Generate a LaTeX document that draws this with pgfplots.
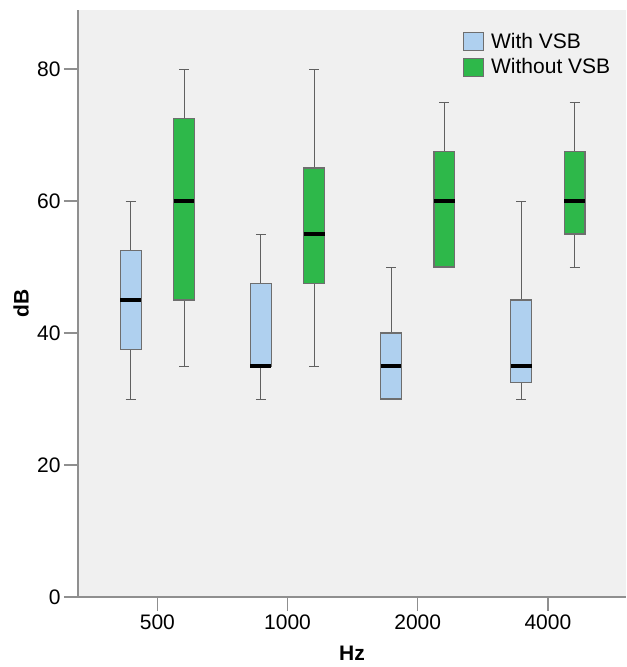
\documentclass[border=0pt]{standalone}
\usepackage{fontspec}
\setmainfont{Liberation Sans}
\usepackage{pgfplots}
\pgfplotsset{compat=1.18}
\definecolor{bggray}{HTML}{F0F0F0}
\definecolor{vsbblue}{HTML}{AFD0EF}
\definecolor{vsbgreen}{HTML}{2EB84A}
\definecolor{edgegray}{HTML}{6E6E6E}
\definecolor{axisgray}{HTML}{8F8F8F}
\definecolor{whiskgray}{HTML}{606060}
\pgfplotsset{
  sqlegend/.style={legend image code/.code={\draw[##1] (0pt,-9pt) rectangle (20pt,9pt); \path (25pt,0pt);}},
  boxst/.style={draw=edgegray, line width=1.1pt, mark=none},
  whiskst/.style={draw=whiskgray, line width=1pt, mark=none, forget plot},
  medst/.style={draw=black, line width=4pt, mark=none, forget plot},
}
\begin{document}
\begin{tikzpicture}
\begin{axis}[
  scale only axis,
  width=548pt, height=587pt,
  xmin=0.39, xmax=4.6,
  ymin=0, ymax=88.94,
  unbounded coords=jump,
  axis background/.style={fill=bggray},
  axis x line*=bottom, axis y line*=left,
  axis line style={draw=axisgray, line width=1.2pt, -},
  tick align=outside,
  major tick length=14pt,
  tick style={draw=axisgray, line width=1.2pt},
  xtick={1,2,3,4},
  xticklabels={500,1000,2000,4000},
  ytick={0,20,40,60,80},
  /pgf/number format/assume math mode=true,
  tick label style={font=\fontsize{21}{25}\selectfont},
  xlabel={\textbf{Hz}}, ylabel={\textbf{dB}},
  label style={font=\fontsize{21}{25}\selectfont},
  xlabel style={at={(axis description cs:0.5,-0.0963)}, anchor=center},
  ylabel style={at={(axis description cs:-0.104,0.5)}, anchor=center},
  legend style={at={(0.697,0.968)}, anchor=north west, draw=none, fill=none,
     font=\fontsize{21}{25}\selectfont, row sep=5pt},
  legend cell align=left,
]
\addlegendimage{sqlegend, fill=vsbblue, draw=edgegray, line width=1pt}
\addlegendentry{With VSB}
\addlegendimage{sqlegend, fill=vsbgreen, draw=edgegray, line width=1pt}
\addlegendentry{Without VSB}
% ---------- whiskers (lower whisker to upper whisker, with caps) ----------
% With VSB
\addplot[whiskst] coordinates {
 (0.795,30) (0.795,60) (0.795,nan) (0.7565,60) (0.8335,60) (0.795,nan) (0.7565,30) (0.8335,30) (0.795,nan)
 (1.795,30) (1.795,55) (1.795,nan) (1.7565,55) (1.8335,55) (1.795,nan) (1.7565,30) (1.8335,30) (1.795,nan)
 (2.795,30) (2.795,50) (2.795,nan) (2.7565,50) (2.8335,50) (2.795,nan) (2.7565,30) (2.8335,30) (2.795,nan)
 (3.795,30) (3.795,60) (3.795,nan) (3.7565,60) (3.8335,60) (3.795,nan) (3.7565,30) (3.8335,30)
};
% Without VSB
\addplot[whiskst] coordinates {
 (1.205,35) (1.205,80) (1.205,nan) (1.1665,80) (1.2435,80) (1.205,nan) (1.1665,35) (1.2435,35) (1.205,nan)
 (2.205,35) (2.205,80) (2.205,nan) (2.1665,80) (2.2435,80) (2.205,nan) (2.1665,35) (2.2435,35) (2.205,nan)
 (3.205,50) (3.205,75) (3.205,nan) (3.1665,75) (3.2435,75) (3.205,nan) (3.1665,50) (3.2435,50) (3.205,nan)
 (4.205,50) (4.205,75) (4.205,nan) (4.1665,75) (4.2435,75) (4.205,nan) (4.1665,50) (4.2435,50)
};
% ---------- boxes (lower quartile to upper quartile) ----------
% With VSB
\addplot[boxst, fill=vsbblue, forget plot] coordinates {(0.715,37.5) (0.875,37.5) (0.875,52.5) (0.715,52.5)} -- cycle;
\addplot[boxst, fill=vsbblue, forget plot] coordinates {(1.715,35) (1.875,35) (1.875,47.5) (1.715,47.5)} -- cycle;
\addplot[boxst, fill=vsbblue, forget plot] coordinates {(2.715,30) (2.875,30) (2.875,40) (2.715,40)} -- cycle;
\addplot[boxst, fill=vsbblue, forget plot] coordinates {(3.715,32.5) (3.875,32.5) (3.875,45) (3.715,45)} -- cycle;
% Without VSB
\addplot[boxst, fill=vsbgreen, forget plot] coordinates {(1.125,45) (1.285,45) (1.285,72.5) (1.125,72.5)} -- cycle;
\addplot[boxst, fill=vsbgreen, forget plot] coordinates {(2.125,47.5) (2.285,47.5) (2.285,65) (2.125,65)} -- cycle;
\addplot[boxst, fill=vsbgreen, forget plot] coordinates {(3.125,50) (3.285,50) (3.285,67.5) (3.125,67.5)} -- cycle;
\addplot[boxst, fill=vsbgreen, forget plot] coordinates {(4.125,55) (4.285,55) (4.285,67.5) (4.125,67.5)} -- cycle;
% ---------- medians ----------
\addplot[medst] coordinates {
 (0.715,45) (0.875,45) (0.795,nan) (1.715,35) (1.875,35) (1.795,nan)
 (2.715,35) (2.875,35) (2.795,nan) (3.715,35) (3.875,35)
};
\addplot[medst] coordinates {
 (1.125,60) (1.285,60) (1.205,nan) (2.125,55) (2.285,55) (2.205,nan)
 (3.125,60) (3.285,60) (3.205,nan) (4.125,60) (4.285,60)
};
\end{axis}
\path (-78pt,-70pt) rectangle (548pt,597pt);
\end{tikzpicture}
\end{document}
